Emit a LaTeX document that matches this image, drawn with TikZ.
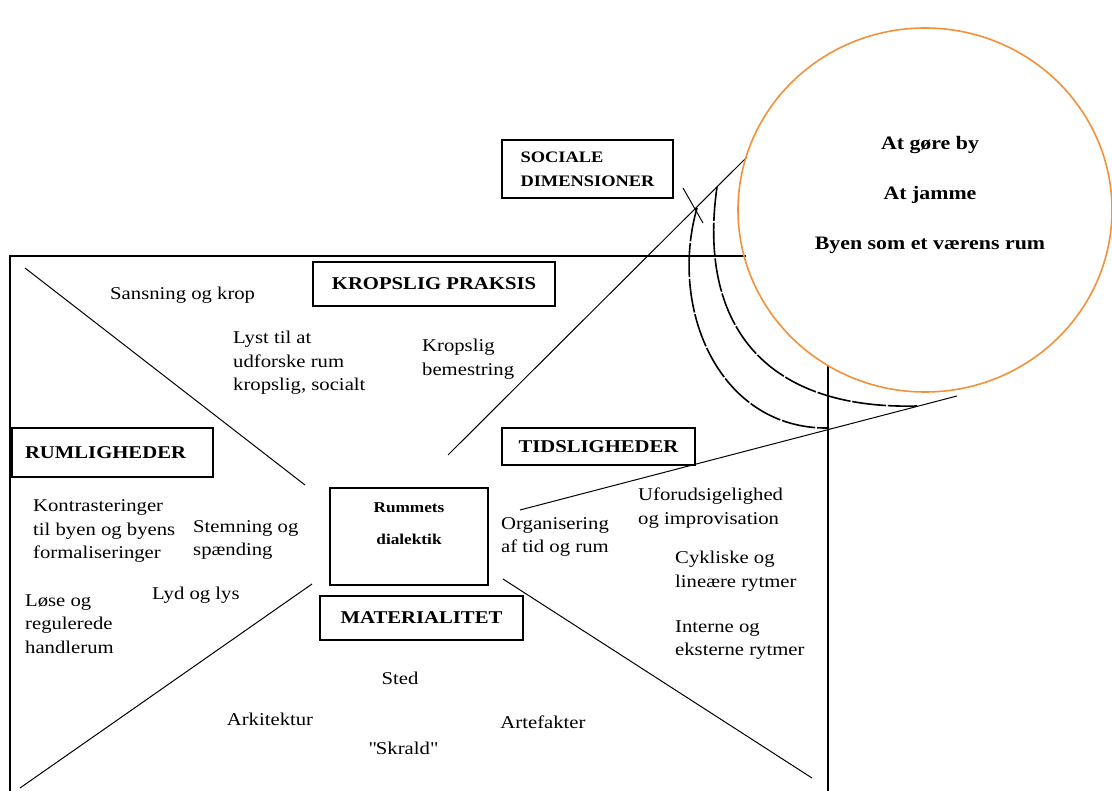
\documentclass[tikz,border=0pt]{standalone}
\usepackage{fontspec}
\setmainfont{Liberation Serif}[FakeStretch=1.15]
\usetikzlibrary{shapes.geometric}
\definecolor{ring}{RGB}{242,145,58}
\newcommand{\straightquote}{\XeTeXglyph\XeTeXglyphindex "quotedbl"\relax}
\begin{document}
\begin{tikzpicture}[x=1pt,y=-1pt,
  font=\fontsize{18}{23.5}\selectfont,
  txt/.style={inner sep=0pt, align=left, anchor=west},
  ctxt/.style={inner sep=0pt},
  box/.style={draw, line width=1.2pt, inner sep=0pt, font=\fontsize{18}{22}\selectfont\bfseries},
  ln/.style={line width=1pt},
  frame/.style={line width=1.2pt},
  arcline/.style={line width=1.6pt, dash pattern=on 34pt off 1.8pt}]
\useasboundingbox (0,0) rectangle (1112,791);

% coordinates
\coordinate (tl) at (10,256);
\coordinate (bl) at (10,795);
\coordinate (ttop) at (746,256);
\coordinate (rtop) at (828,366);
\coordinate (rbot) at (828,795);
\coordinate (d1a) at (25,268);
\coordinate (d1b) at (305,485);
\coordinate (d2a) at (312,584);
\coordinate (d2b) at (20,788);
\coordinate (d3a) at (503,579);
\coordinate (d3b) at (812,778);
\coordinate (d4a) at (448,455);
\coordinate (d4b) at (747,157);
\coordinate (d5a) at (520,510);
\coordinate (d5b) at (957,396);
\coordinate (t1) at (683,188);
\coordinate (t2) at (703,223);
\coordinate (a1s) at (697,208);
\coordinate (a1e) at (829,428);
\coordinate (a2s) at (717,187);
\coordinate (a2e) at (917,406);

% frame
\draw[frame] (bl) -- (tl) -- (ttop);
\draw[frame] (rtop) -- (rbot);

% diagonals
\draw[ln] (d1a) -- (d1b);
\draw[ln] (d2a) -- (d2b);
\draw[ln] (d3a) -- (d3b);
\draw[ln] (d4a) -- (d4b);
\draw[ln] (d5a) -- (d5b);
\draw[ln] (t1) -- (t2);

% arcs
\draw[arcline] (a1s) .. controls (668,310) and (720,430) .. (a1e);
\draw[arcline] (a2s) .. controls (698,320) and (760,410) .. (a2e);

% circle
\node[ellipse, draw=ring, line width=1.6pt, minimum width=374pt, minimum height=364pt, inner sep=0pt] (by) at (925,210) {};
\node[ctxt, font=\fontsize{19}{50}\selectfont\bfseries, align=center] (bytxt) at (930,195) {At gøre by\\At jamme\\Byen som et værens rum};

% boxes
\node[box, minimum width=171pt, minimum height=58pt, font=\fontsize{16}{24}\selectfont\bfseries, align=left] (soc) at (587.5,169) {SOCIALE\\DIMENSIONER};
\node[box, minimum width=242pt, minimum height=44pt] (kp) at (434,284) {KROPSLIG PRAKSIS};
\node[box, minimum width=201pt, minimum height=49pt, text width=175pt, align=left] (rum) at (112.5,452.5) {RUMLIGHEDER};
\node[box, minimum width=193pt, minimum height=37pt] (tid) at (598.5,446.5) {TIDSLIGHEDER};
\node[box, minimum width=203pt, minimum height=44pt] (mat) at (421.5,618) {MATERIALITET};
\node[box, minimum width=158pt, minimum height=97pt] (dial) at (409,536.5) {};
\node[ctxt, font=\fontsize{15}{32}\selectfont\bfseries, align=center] (dialtxt) at (409,524) {Rummets\\dialektik};

% texts
\node[txt] (sans) at (110,295) {Sansning og krop};
\node[txt] (lyst) at (233,363) {Lyst til at\\udforske rum\\kropslig, socialt};
\node[txt] (kb) at (422,359) {Kropslig\\bemestring};
\node[txt] (kon) at (33,531) {Kontrasteringer\\til byen og byens\\formaliseringer};
\node[txt] (stem) at (193,540) {Stemning og\\spænding};
\node[txt] (lose) at (25,624) {Løse og\\regulerede\\handlerum};
\node[txt] (lyd) at (152,595) {Lyd og lys};
\node[txt] (org) at (501,537) {Organisering\\af tid og rum};
\node[txt] (ufo) at (638,508) {Uforudsigelighed\\og improvisation};
\node[txt] (cyk) at (675,571) {Cykliske og\\lineære rytmer};
\node[txt] (int) at (675,640) {Interne og\\eksterne rytmer};
\node[ctxt] (sted) at (400,678) {Sted};
\node[ctxt] (ark) at (270,719) {Arkitektur};
\node[ctxt] (skr) at (403,748) {\straightquote Skrald\straightquote};
\node[ctxt] (art) at (543,722) {Artefakter};
\end{tikzpicture}
\end{document}
